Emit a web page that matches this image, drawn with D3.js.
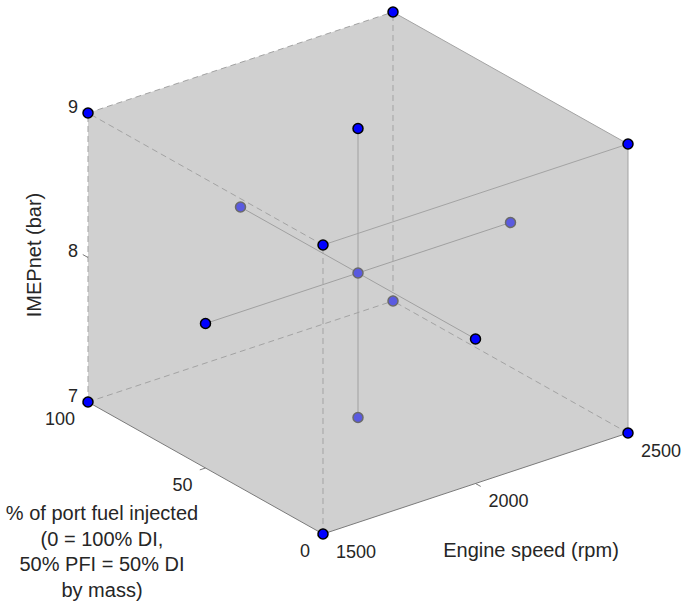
<!DOCTYPE html>
<meta charset="utf-8">
<style>
    body { margin: 0; background: #fff; }
    text { font-family: "Liberation Sans", Arial, sans-serif; fill: #262626; }
    .tick-label { font-size: 18px; }
    .axis-label { font-size: 20px; }
    .edge { fill: none; stroke: #a3a3a3; stroke-width: 1px; }
    .edge.dashed { stroke-dasharray: 6,4; }
    .edge.axis { stroke: #7a7a7a; }
    .dataLine { fill: none; stroke: #a0a0a0; stroke-width: 1px; }
    .tick { stroke: #7a7a7a; stroke-width: 1px; }
</style>
<body>
<script src="https://d3js.org/d3.v7.min.js"></script>
<script>

    // tick values on the three axes
    var speedTicks = [1500, 2000, 2500];
    var pfiTicks = [0, 50, 100];
    var imepTicks = [7, 8, 9];

    // test points: 8 corners, 6 face centres, 1 centre point
    var pointSpeed = [1500, 2500, 1500, 2500, 1500, 2500, 1500, 2500, 1500, 2500, 2000, 2000, 2000, 2000, 2000];
    var pointPfi   = [0,    0,    100,  100,  0,    0,    100,  100,  50,   50,   0,    100,  50,   50,   50];
    var pointImep  = [7,    7,    7,    7,    9,    9,    9,    9,    8,    8,    8,    8,    7,    9,    8];

    // lines joining opposite face centres (point indices)
    var lineFrom = [8, 10, 12];
    var lineTo   = [9, 11, 13];

    var width = 682, height = 603;

    // unit scales for each axis
    var sx = d3.scaleLinear().domain(d3.extent(speedTicks)).range([0, 1]);
    var sy = d3.scaleLinear().domain(d3.extent(pfiTicks)).range([0, 1]);
    var sz = d3.scaleLinear().domain(d3.extent(imepTicks)).range([0, 1]);

    // orthographic projection of the box
    var origin = [323, 534],
        ex = [305, -101],
        ey = [-235, -132],
        ez = [0, -289];

    function project(s, p, z) {
        var u = sx(s), v = sy(p), w = sz(z);
        return [origin[0] + u * ex[0] + v * ey[0] + w * ez[0],
                origin[1] + u * ex[1] + v * ey[1] + w * ez[1]];
    }

    var svg = d3.select("body").append("svg")
        .attr("width", width)
        .attr("height", height);

    var sMin = speedTicks[0], sMax = speedTicks[2],
        pMin = pfiTicks[0], pMax = pfiTicks[2],
        zMin = imepTicks[0], zMax = imepTicks[2];

    // grey silhouette of the box
    var hull = [
        project(sMin, pMax, zMax), project(sMax, pMax, zMax), project(sMax, pMin, zMax),
        project(sMax, pMin, zMin), project(sMin, pMin, zMin), project(sMin, pMax, zMin)
    ];
    svg.append("path")
        .attr("d", "M" + hull.join("L") + "Z")
        .attr("fill", "#d0d0d0");

    // box edges
    var edges = [
        [[sMin, pMax, zMax], [sMax, pMax, zMax], "dashed"],
        [[sMin, pMax, zMin], [sMin, pMax, zMax], "dashed"],
        [[sMin, pMin, zMax], [sMin, pMax, zMax], "dashed"],
        [[sMin, pMin, zMin], [sMin, pMin, zMax], "dashed"],
        [[sMax, pMax, zMin], [sMax, pMax, zMax], "dashed"],
        [[sMin, pMax, zMin], [sMax, pMax, zMin], "dashed"],
        [[sMax, pMin, zMin], [sMax, pMax, zMin], "dashed"],
        [[sMin, pMin, zMax], [sMax, pMin, zMax], ""],
        [[sMax, pMin, zMax], [sMax, pMax, zMax], ""],
        [[sMax, pMin, zMin], [sMax, pMin, zMax], ""],
        [[sMin, pMin, zMin], [sMax, pMin, zMin], "axis"],
        [[sMin, pMin, zMin], [sMin, pMax, zMin], "axis"]
    ];
    svg.selectAll(".edge")
        .data(edges)
        .enter().append("line")
        .attr("class", function(d) { return "edge " + d[2]; })
        .attr("x1", function(d) { return project.apply(null, d[0])[0]; })
        .attr("y1", function(d) { return project.apply(null, d[0])[1]; })
        .attr("x2", function(d) { return project.apply(null, d[1])[0]; })
        .attr("y2", function(d) { return project.apply(null, d[1])[1]; });

    // lines through the centre point
    svg.selectAll(".dataLine")
        .data(lineFrom)
        .enter().append("line")
        .attr("class", "dataLine")
        .attr("x1", function(d) { return project(pointSpeed[d], pointPfi[d], pointImep[d])[0]; })
        .attr("y1", function(d) { return project(pointSpeed[d], pointPfi[d], pointImep[d])[1]; })
        .attr("x2", function(d, i) { var j = lineTo[i]; return project(pointSpeed[j], pointPfi[j], pointImep[j])[0]; })
        .attr("y2", function(d, i) { var j = lineTo[i]; return project(pointSpeed[j], pointPfi[j], pointImep[j])[1]; });

    // ticks and labels
    var tl = 6;
    function unit(v) { var n = Math.hypot(v[0], v[1]); return [v[0] / n, v[1] / n]; }
    var uy = unit(ey), ux = unit(ex);

    // IMEP ticks along the back-left vertical edge
    imepTicks.forEach(function(t) {
        var a = project(sMin, pMax, t);
        svg.append("line").attr("class", "tick")
            .attr("x1", a[0]).attr("y1", a[1])
            .attr("x2", a[0] + uy[0] * tl).attr("y2", a[1] + uy[1] * tl);
        svg.append("text").attr("class", "tick-label")
            .attr("x", a[0] - 10).attr("y", a[1] - 5)
            .attr("text-anchor", "end").attr("dominant-baseline", "middle")
            .text(t);
    });

    // PFI ticks along the bottom-left edge
    pfiTicks.forEach(function(t) {
        var a = project(sMin, t, zMin);
        svg.append("line").attr("class", "tick")
            .attr("x1", a[0]).attr("y1", a[1])
            .attr("x2", a[0] - ux[0] * tl).attr("y2", a[1] - ux[1] * tl);
        svg.append("text").attr("class", "tick-label")
            .attr("x", a[0] - 13).attr("y", a[1] + 18)
            .attr("text-anchor", "end").attr("dominant-baseline", "middle")
            .text(t);
    });

    // speed ticks along the bottom-right edge
    speedTicks.forEach(function(t) {
        var a = project(t, pMin, zMin);
        svg.append("line").attr("class", "tick")
            .attr("x1", a[0]).attr("y1", a[1])
            .attr("x2", a[0] - uy[0] * tl).attr("y2", a[1] - uy[1] * tl);
        svg.append("text").attr("class", "tick-label")
            .attr("x", a[0] + 13).attr("y", a[1] + 19)
            .attr("text-anchor", "start").attr("dominant-baseline", "middle")
            .text(t);
    });

    // axis titles
    svg.append("text").attr("class", "axis-label")
        .attr("x", 531).attr("y", 552)
        .attr("text-anchor", "middle").attr("dominant-baseline", "middle")
        .text("Engine speed (rpm)");

    svg.append("text").attr("class", "axis-label")
        .attr("transform", "translate(36,255) rotate(-90)")
        .attr("text-anchor", "middle").attr("dominant-baseline", "middle")
        .text("IMEPnet (bar)");

    var pfiLabel = ["% of port fuel injected", "(0 = 100% DI,", "50% PFI = 50% DI", "by mass)"];
    svg.append("text").attr("class", "axis-label")
        .attr("text-anchor", "middle")
        .selectAll("tspan")
        .data(pfiLabel)
        .enter().append("tspan")
        .attr("x", 102)
        .attr("y", function(d, i) { return 520 + i * 25.5; })
        .text(function(d) { return d; });

    // markers: points on the three front faces are drawn solid,
    // points behind them appear washed out through the grey faces
    var idx = d3.range(pointSpeed.length);
    function inFront(i) {
        return pointSpeed[i] === sMin || pointPfi[i] === pMin || pointImep[i] === zMax;
    }
    var order = idx.filter(function(i) { return !inFront(i); })
        .concat(idx.filter(inFront));

    svg.selectAll(".marker")
        .data(order)
        .enter().append("circle")
        .attr("class", "marker")
        .attr("cx", function(i) { return project(pointSpeed[i], pointPfi[i], pointImep[i])[0]; })
        .attr("cy", function(i) { return project(pointSpeed[i], pointPfi[i], pointImep[i])[1]; })
        .attr("r", 5)
        .attr("fill", function(i) { return inFront(i) ? "#0000ff" : "#5a5ae0"; })
        .attr("stroke", function(i) { return inFront(i) ? "#000" : "#6a6a6a"; })
        .attr("stroke-width", 1.5);

</script>
</body>
